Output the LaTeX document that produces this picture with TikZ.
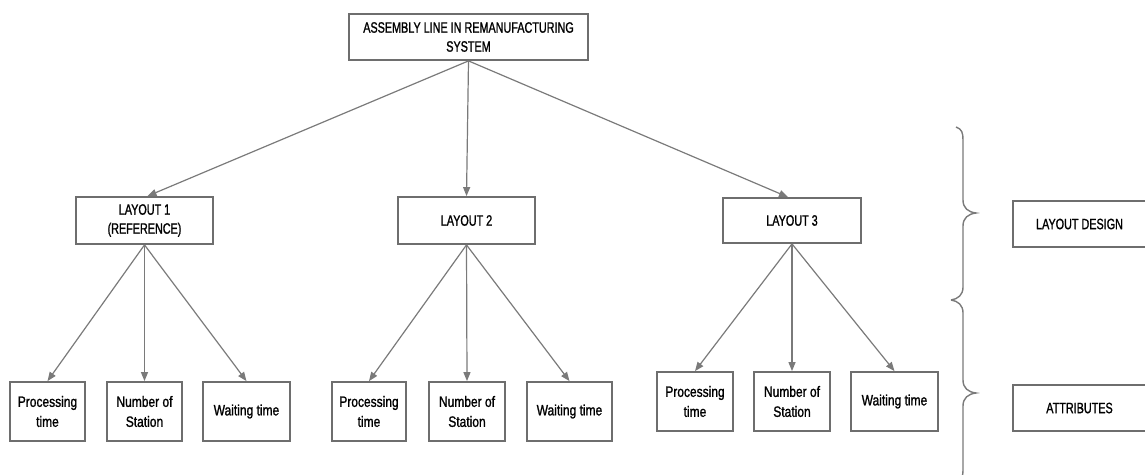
\documentclass[tikz,border=0pt]{standalone}
\usepackage{fontspec}
\setmainfont[FakeStretch=0.8,FakeBold=1.2]{Liberation Sans}
\newfontfamily\capsfont[FakeStretch=0.72,FakeBold=1.2]{Liberation Sans}
\usetikzlibrary{arrows.meta}
\definecolor{boxgray}{HTML}{6E6E6E}
\definecolor{linegray}{HTML}{7A7A7A}
\begin{document}
\begin{tikzpicture}[x=1pt,y=-1pt,
  box/.style={draw=boxgray,line width=1.8pt,fill=white,align=center,inner sep=0pt,
    minimum height=46pt,font=\fontsize{15}{19}\selectfont\capsfont},
  leaf/.style={box,minimum height=59pt,font=\fontsize{15}{20}\selectfont\rmfamily},
  arr/.style={draw=linegray,line width=1.2pt,-{Triangle[length=9pt,width=7pt]}},
  bracepath/.style={draw=linegray,line width=1.4pt}]
\useasboundingbox (0,0) rectangle (1145,474);

% root and the three layouts
\node[box,minimum width=239pt] (root) at (468.5,37) {ASSEMBLY LINE IN REMANUFACTURING\\SYSTEM};
\node[box,minimum width=137pt,minimum height=47pt] (l1) at (144.5,220.5) {LAYOUT 1\\(REFERENCE)};
\node[box,minimum width=137pt,minimum height=47pt] (l2) at (466.5,220.5) {LAYOUT 2};
\node[box,minimum width=138pt,minimum height=45pt] (l3) at (792,220.5) {LAYOUT 3};

% attributes of layout 1
\node[leaf,minimum width=75pt] (p1) at (47.5,411.5) {Processing\\time};
\node[leaf,minimum width=75pt] (n1) at (144.5,411.5) {Number of\\Station};
\node[leaf,minimum width=87pt] (w1) at (246.5,411.5) {Waiting time};

% attributes of layout 2
\node[leaf,minimum width=74pt] (p2) at (369,411.5) {Processing\\time};
\node[leaf,minimum width=76pt] (n2) at (467,411.5) {Number of\\Station};
\node[leaf,minimum width=85pt] (w2) at (569.5,411.5) {Waiting time};

% attributes of layout 3
\node[leaf,minimum width=76pt] (p3) at (695,401.5) {Processing\\time};
\node[leaf,minimum width=76pt] (n3) at (792,401.5) {Number of\\Station};
\node[leaf,minimum width=87pt] (w3) at (894.5,401.5) {Waiting time};

% level labels on the right
\node[box,minimum width=133pt] (ld) at (1079.5,224) {LAYOUT DESIGN};
\node[box,minimum width=133pt] (at) at (1079.5,408) {ATTRIBUTES};

% connectors
\draw[arr] (root.south) -- ([xshift=3pt]l1.north);
\draw[arr] (root.south) -- (l2.north);
\draw[arr] (root.south) -- ([xshift=-4pt]l3.north);
\foreach \l in {1,2,3}{
  \draw[arr] (l\l.south) -- (p\l.north);
  \draw[arr] (l\l.south) -- (n\l.north);
  \draw[arr] (l\l.south) -- (w\l.north);
}

% braces grouping the levels
\draw[bracepath] (956,127) .. controls (962,129) and (963,133) .. (963,140)
  -- (963,200) .. controls (963,208) and (968,212) .. (976,213)
  .. controls (968,214) and (963,218) .. (963,226)
  -- (963,287) .. controls (963,295) and (958,299) .. (951,300);
\draw[bracepath] (951,300) .. controls (958,301) and (963,305) .. (963,313)
  -- (963,380) .. controls (963,388) and (968,392) .. (976,393)
  .. controls (968,394) and (963,398) .. (963,406)
  -- (963,470) .. controls (963,478) and (960,484) .. (955,486);
\end{tikzpicture}
\end{document}
